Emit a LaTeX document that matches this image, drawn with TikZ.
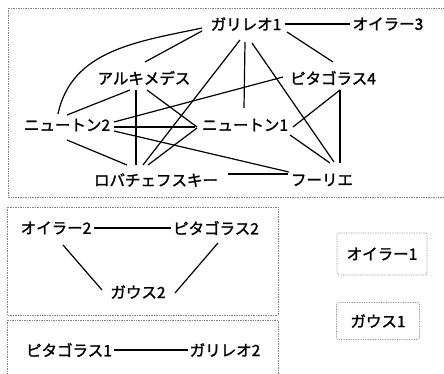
\documentclass[tikz,border=0pt]{standalone}
\usepackage{fontspec}
\newfontfamily\jp[FakeBold=1.6]{Noto Sans CJK JP}
\usetikzlibrary{calc}
\tikzset{
  lbl/.style={font=\jp\fontsize{15.5}{18}\selectfont, inner sep=1pt},
  edge/.style={line width=1.2pt, black},
  frame/.style={draw=gray, densely dotted, line width=0.7pt},
  boxlbl/.style={lbl, frame, rounded corners=2pt}
}
\begin{document}
\begin{tikzpicture}[x=1pt,y=-1pt]
\clip (0,0) rectangle (444,374);
\fill[white] (0,0) rectangle (444,374);
% frames
\draw[frame] (8,8) rectangle (460,197);
\draw[frame] (7,207) rectangle (278,315);
\draw[frame] (7,320) rectangle (278,390);
% main graph nodes
\node[lbl] (G1) at (246,24) {ガリレオ1};
\node[lbl] (E3) at (388,24) {オイラー3};
\node[lbl] (A)  at (144,78) {アルキメデス};
\node[lbl] (P4) at (333,78) {ピタゴラス4};
\node[lbl] (N2) at (67,125) {ニュートン2};
\node[lbl] (N1) at (245,125) {ニュートン1};
\node[lbl] (L)  at (156,180) {ロバチェフスキー};
\node[lbl] (F)  at (322,180) {フーリエ};
% edges
\draw[edge] ($(G1.east)+(2,0)$) -- ($(E3.west)+(-2,0)$);
\draw[edge] ($(G1)+(-44,4)$) to[out=192,in=78] ($(N2)+(-9,-11)$);
\draw[edge] ($(G1)+(-44,7)$) -- ($(A)+(1,-16)$);
\draw[edge] ($(G1)+(-6,16)$) -- ($(L)+(-13,-15)$);
\draw[edge] ($(G1)+(-1,18)$) -- ($(N1)+(-1,-17)$);
\draw[edge] ($(G1)+(6,19)$) -- ($(F)+(12,-18)$);
\draw[edge] ($(G1)+(41,8)$) -- ($(P4)+(0,-16)$);
\draw[edge] ($(A)+(-14,12)$) -- ($(N2)+(0,-10)$);
\draw[edge] ($(A)+(-8,12)$) -- ($(L)+(-20,-15)$);
\draw[edge] ($(A)+(3,12)$) -- ($(N1)+(-48,2)$);
\draw[edge] ($(P4)+(-50,-1)$) -- ($(N2)+(47,-3)$);
\draw[edge] ($(N2)+(47,2)$) -- ($(N1)+(-50,2)$);
\draw[edge] ($(N2)+(47,6)$) -- ($(F.west)+(-1,-8)$);
\draw[edge] ($(N2)+(0,15)$) -- ($(L)+(-29,-15)$);
\draw[edge] ($(N1)+(-48,3)$) -- ($(L)+(-8,-15)$);
\draw[edge] ($(N1)+(48,2)$) -- ($(P4)+(7,12)$);
\draw[edge] ($(N1)+(45,10)$) -- ($(F)+(8,-17)$);
\draw[edge] ($(P4)+(7,12)$) -- ($(F)+(18,-17)$);
\draw[edge] ($(L.east)+(9,-6)$) -- ($(F.west)+(-2,-6)$);
% second group
\node[lbl] (E2) at (56,228) {オイラー2};
\node[lbl] (P2) at (216,228) {ピタゴラス2};
\node[lbl] (Ga2) at (138,292) {ガウス2};
\draw[edge] ($(E2.east)+(1,0)$) -- ($(P2.west)+(-1,0)$);
\draw[edge] ($(E2)+(7,17)$) -- ($(Ga2)+(-36,-2)$);
\draw[edge] ($(P2)+(2,15)$) -- ($(Ga2)+(37,1)$);
% third group
\node[lbl] (P1) at (69,350) {ピタゴラス1};
\node[lbl] (G2) at (225,350) {ガリレオ2};
\draw[edge] ($(P1.east)+(1,0)$) -- ($(G2.west)+(-1,0)$);
% isolated
\node[boxlbl, minimum width=90, minimum height=42] (E1) at (382,254) {オイラー1};
\node[boxlbl, minimum width=83, minimum height=37] (Ga1) at (378,321) {ガウス1};
\end{tikzpicture}
\end{document}
